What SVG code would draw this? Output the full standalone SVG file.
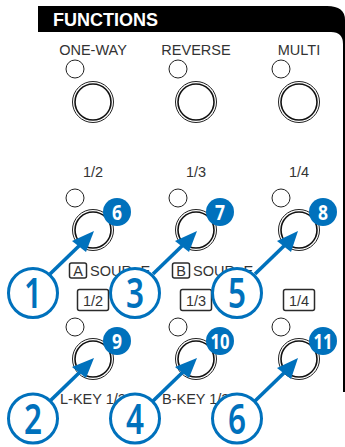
<svg xmlns="http://www.w3.org/2000/svg" width="345" height="447" viewBox="0 0 345 447">
<style>
.t{font-family:"Liberation Sans",Arial,sans-serif;font-size:14.5px;fill:#333}
.m{text-anchor:middle}
.led{fill:#fff;stroke:#222;stroke-width:1}
.o{fill:#fff;stroke:#222;stroke-width:1}
.i{fill:#fff;stroke:#111;stroke-width:1.6}
.box{fill:#fff;stroke:#2b2b2b;stroke-width:1.5}
.big{fill:#fff;stroke:#0071bc;stroke-width:3}
.bn{font-family:"Noto Sans","Open Sans",sans-serif;font-weight:600;fill:#0071bc;font-size:41px;text-anchor:middle}
.sn{font-family:"Noto Sans","Open Sans",sans-serif;font-weight:700;fill:#fff;font-size:20.5px;text-anchor:middle}
.badge{fill:#0071bc}
.arr{stroke:#0071bc;stroke-width:3.6;fill:none}
.hd{fill:#0071bc}
</style>
<g id="panel">
<path d="M38 6H327Q345 6 345 20V392H343V44Q343 32 331 32H38Z" fill="#000"/>
<text x="53" y="26" font-family="'Liberation Sans',Arial,sans-serif" font-weight="700" font-size="18" fill="#fff" textLength="105" lengthAdjust="spacingAndGlyphs">FUNCTIONS</text>
</g>
<g id="labels">
<text class="t m" x="93" y="55">ONE-WAY</text>
<text class="t m" x="196" y="55">REVERSE</text>
<text class="t m" x="299" y="55">MULTI</text>
<text class="t m" x="93" y="177">1/2</text>
<text class="t m" x="196" y="177">1/3</text>
<text class="t m" x="299" y="177">1/4</text>
<text class="t" x="90" y="275.500">SOUR</text>
<text class="t" x="140.500" y="275.500">E</text>
<text class="t" x="193" y="275.500">SOUR</text>
<text class="t" x="243.500" y="275.500">E</text>
<text class="t" x="60" y="404">L-KEY 1/2</text>
<text class="t" x="162" y="404">B-KEY 1/3</text>
</g>
<g id="keys">
<rect class="box" x="69.500" y="263" width="17" height="15" rx="2"/><text class="t m" x="78" y="275.500">A</text>
<rect class="box" x="172.500" y="263" width="17" height="15" rx="2"/><text class="t m" x="181" y="275.500">B</text>
<rect class="box" x="77.500" y="289.500" width="31" height="21" rx="2"/><text class="t m" x="93" y="305.500">1/2</text>
<rect class="box" x="180.500" y="289.500" width="31" height="21" rx="2"/><text class="t m" x="196" y="305.500">1/3</text>
<rect class="box" x="283.500" y="289.500" width="31" height="21" rx="2"/><text class="t m" x="299" y="305.500">1/4</text>
</g>
<g id="button-row-1">
<circle class="led" cx="75" cy="69" r="9"/><circle class="o" cx="93" cy="102" r="20.5"/><circle class="i" cx="93" cy="102" r="18"/>
<circle class="led" cx="178" cy="69" r="9"/><circle class="o" cx="196" cy="102" r="20.5"/><circle class="i" cx="196" cy="102" r="18"/>
<circle class="led" cx="281" cy="69" r="9"/><circle class="o" cx="299" cy="102" r="20.5"/><circle class="i" cx="299" cy="102" r="18"/>
</g>
<g id="button-row-2">
<circle class="led" cx="75" cy="198" r="9"/><circle class="o" cx="93" cy="230" r="20.5"/><circle class="i" cx="93" cy="230" r="18"/>
<circle class="led" cx="178" cy="198" r="9"/><circle class="o" cx="196" cy="230" r="20.5"/><circle class="i" cx="196" cy="230" r="18"/>
<circle class="led" cx="281" cy="198" r="9"/><circle class="o" cx="299" cy="230" r="20.5"/><circle class="i" cx="299" cy="230" r="18"/>
</g>
<g id="button-row-3">
<circle class="led" cx="75" cy="327" r="9"/><circle class="o" cx="93" cy="359" r="20.5"/><circle class="i" cx="93" cy="359" r="18"/>
<circle class="led" cx="178" cy="327" r="9"/><circle class="o" cx="196" cy="359" r="20.5"/><circle class="i" cx="196" cy="359" r="18"/>
<circle class="led" cx="281" cy="327" r="9"/><circle class="o" cx="299" cy="359" r="20.5"/><circle class="i" cx="299" cy="359" r="18"/>
</g>
<g id="connectors">
<path class="arr" d="M50 274L81 244"/><path class="hd" d="M94 231L72 241L86 252Z"/>
<path class="arr" d="M153 274L184 244"/><path class="hd" d="M197 231L175 241L189 252Z"/>
<path class="arr" d="M255 274L286 244"/><path class="hd" d="M298 231L277 241L291 252Z"/>
<path class="arr" d="M50 401L81 371"/><path class="hd" d="M94 358L72 367L86 378Z"/>
<path class="arr" d="M153 401L184 371"/><path class="hd" d="M197 358L175 367L189 378Z"/>
<path class="arr" d="M255 401L286 371"/><path class="hd" d="M298 358L277 368L291 379Z"/>
</g>
<g id="badge-6"><circle class="badge" cx="117" cy="212" r="14"/><text class="sn" x="117" y="219.500" textLength="10" lengthAdjust="spacingAndGlyphs">6</text></g>
<g id="badge-7"><circle class="badge" cx="220" cy="212" r="14"/><text class="sn" x="220" y="219.500" textLength="10" lengthAdjust="spacingAndGlyphs">7</text></g>
<g id="badge-8"><circle class="badge" cx="323" cy="212" r="14"/><text class="sn" x="323" y="219.500" textLength="10" lengthAdjust="spacingAndGlyphs">8</text></g>
<g id="badge-9"><circle class="badge" cx="117" cy="341" r="14"/><text class="sn" x="117" y="348.500" textLength="10" lengthAdjust="spacingAndGlyphs">9</text></g>
<g id="badge-10"><circle class="badge" cx="220" cy="341" r="14"/><text class="sn" x="220" y="348.500" textLength="19" lengthAdjust="spacingAndGlyphs">10</text></g>
<g id="badge-11"><circle class="badge" cx="323" cy="341" r="14"/><text class="sn" x="323" y="348.500" textLength="19" lengthAdjust="spacingAndGlyphs">11</text></g>
<g id="callout-1"><circle class="big" cx="33" cy="293" r="24.500"/><text class="bn" x="33" y="308" textLength="18" lengthAdjust="spacingAndGlyphs">1</text></g>
<g id="callout-3"><circle class="big" cx="135" cy="293" r="24.500"/><text class="bn" x="135" y="308" textLength="18" lengthAdjust="spacingAndGlyphs">3</text></g>
<g id="callout-5"><circle class="big" cx="237" cy="293" r="24.500"/><text class="bn" x="237" y="308" textLength="18" lengthAdjust="spacingAndGlyphs">5</text></g>
<g id="callout-2"><circle class="big" cx="33" cy="418.500" r="24.500"/><text class="bn" x="33" y="434" textLength="18" lengthAdjust="spacingAndGlyphs">2</text></g>
<g id="callout-4"><circle class="big" cx="135" cy="418.500" r="24.500"/><text class="bn" x="135" y="434" textLength="18" lengthAdjust="spacingAndGlyphs">4</text></g>
<g id="callout-6"><circle class="big" cx="237" cy="418.500" r="24.500"/><text class="bn" x="237" y="434" textLength="18" lengthAdjust="spacingAndGlyphs">6</text></g>
</svg>
